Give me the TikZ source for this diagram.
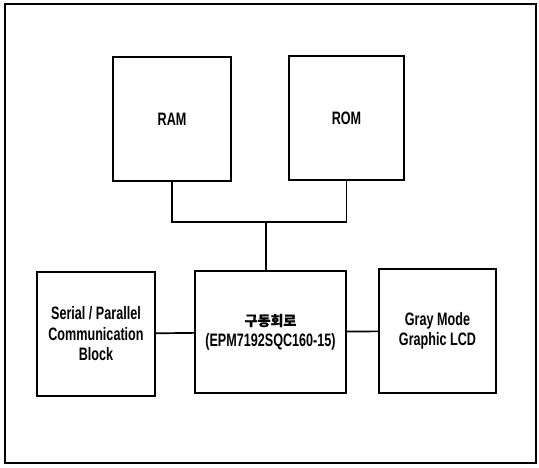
\documentclass[tikz,border=0pt]{standalone}
\usepackage{fontspec}
\setmainfont[FakeStretch=0.70]{Liberation Sans}
\newfontfamily\krfont[FakeBold=0.4]{Noto Sans CJK KR}
\begin{document}
\begin{tikzpicture}[x=1pt,y=-1pt,
  blk/.style={draw=black, fill=white, line width=2.2pt, rectangle, inner sep=0pt,
    align=center, font=\fontsize{18}{20.5}\selectfont\bfseries},
  conn/.style={draw=black, line width=1.7pt}]
\useasboundingbox (0,0) rectangle (539,468);
\draw[line width=2.2pt] (5,4) rectangle (536,463);
\node[blk, minimum width=118pt, minimum height=124pt] (ram) at (172,119) {RAM};
\node[blk, minimum width=115pt, minimum height=124pt] (rom) at (346.5,118) {ROM};
\node[blk, minimum width=118pt, minimum height=124pt] (ser) at (96,334) {Serial / Parallel\\Communication\\Block};
\node[blk, minimum width=151pt, minimum height=122pt] (drv) at (270.5,332) {{\krfont\fontsize{14}{20.5}\selectfont 구동회로}\\(EPM7192SQC160-15)};
\node[blk, minimum width=117pt, minimum height=124pt] (lcd) at (437.5,331) {Gray Mode\\Graphic LCD};
\coordinate (bus) at (266,222);
\draw[conn] (ram.south) |- (bus) -| (rom.south);
\draw[conn] (bus) -- (bus |- drv.north);
\draw[conn] (ser) -- (drv);
\draw[conn] (drv) -- (lcd);
\end{tikzpicture}
\end{document}
